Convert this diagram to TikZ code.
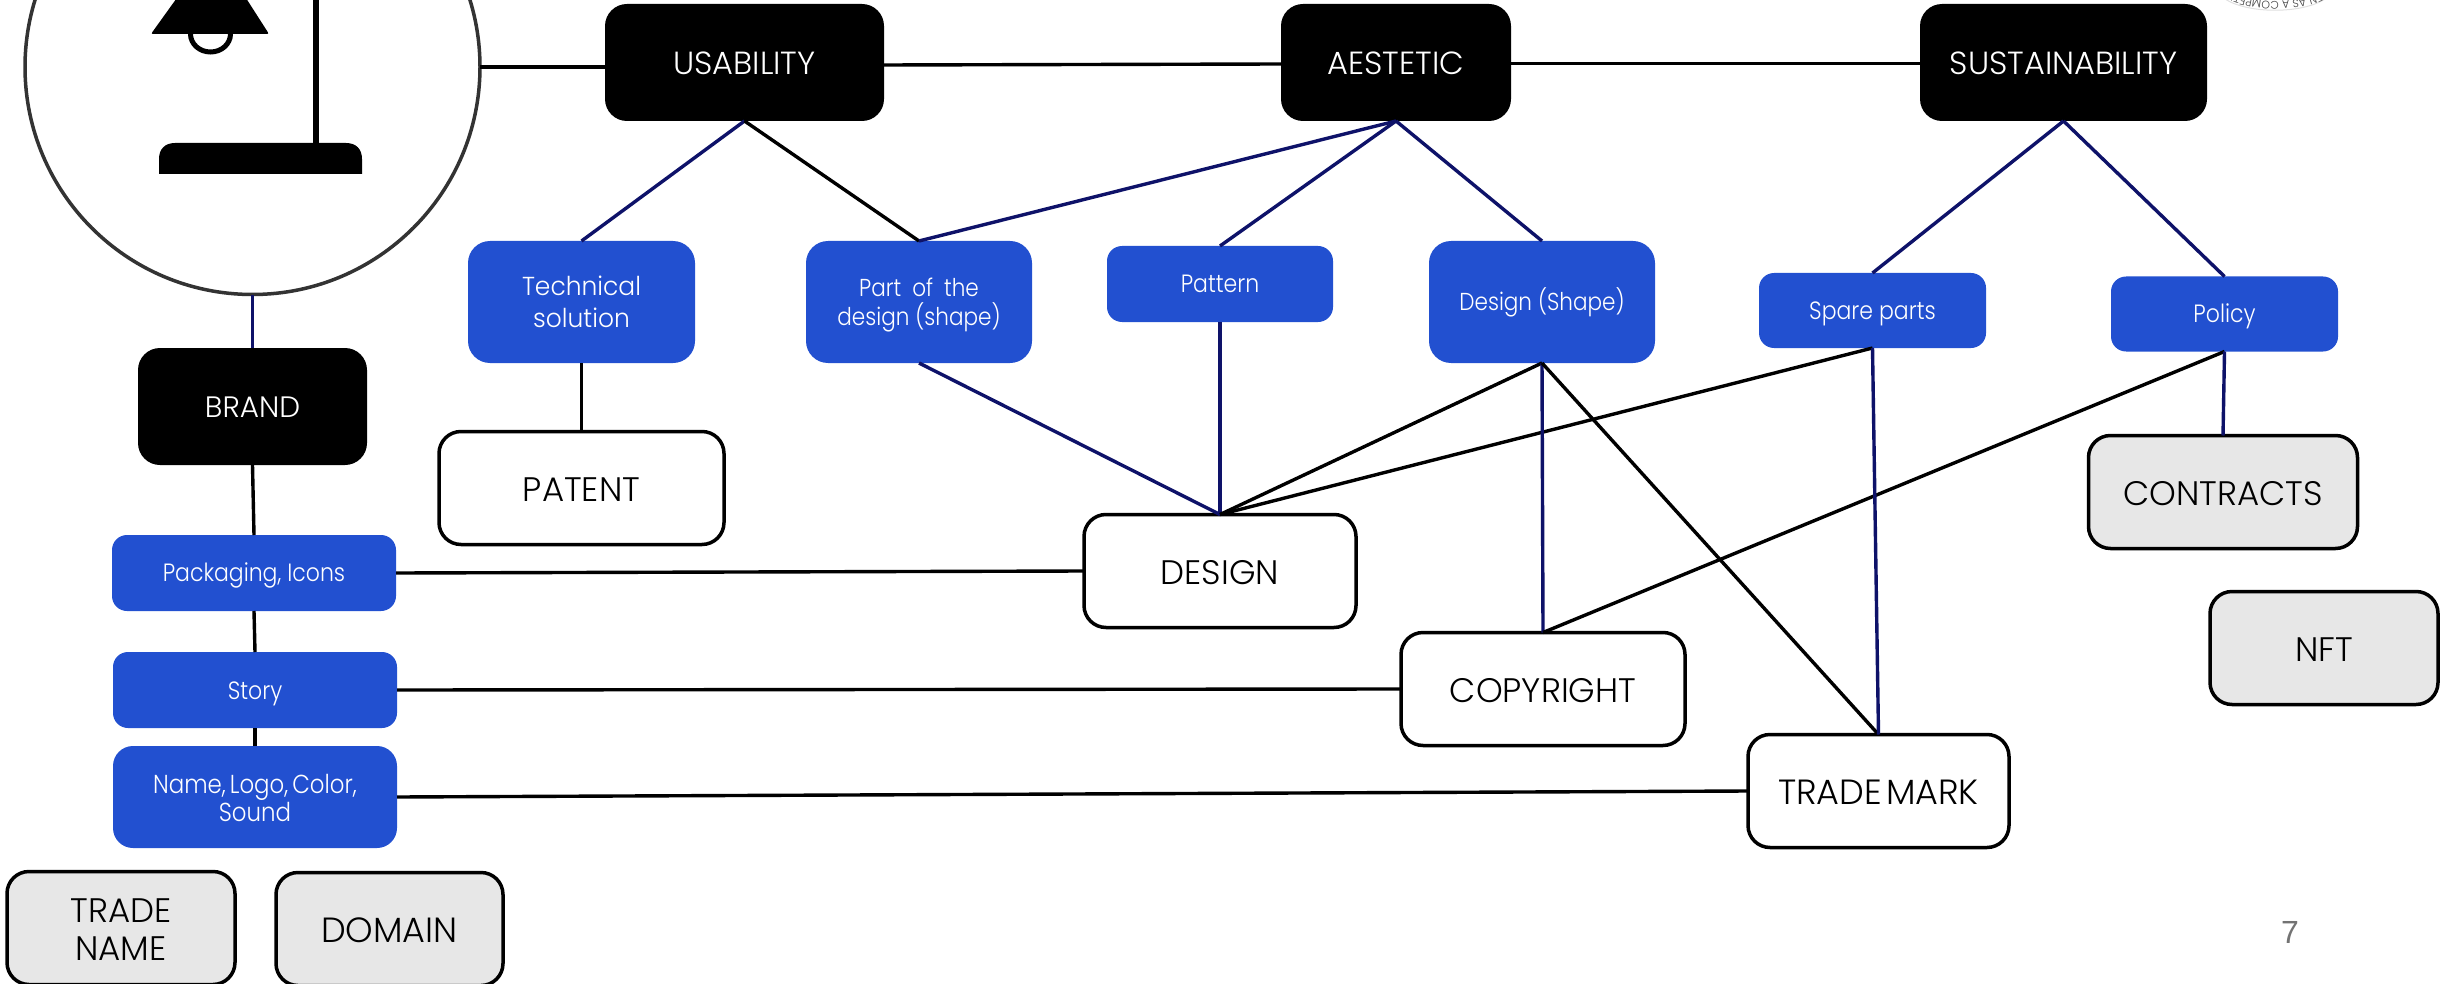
\documentclass[tikz,border=0pt]{standalone}
\usepackage{fontspec}
\usetikzlibrary{decorations.text}
\setmainfont{Poppins Light}
\newfontfamily\numfont{Liberation Sans}
\newfontfamily\tightfont[FakeStretch=0.88]{Poppins Light}
\newfontfamily\techfont[FakeStretch=0.96]{Poppins Light}
\newcommand\twoL[3]{\rule{0pt}{#1}\smash{#2}\\\smash{#3}}
\begin{document}
\begin{tikzpicture}[x=1pt,y=-1pt,
  basebox/.style={rectangle,align=center,inner sep=0pt,outer sep=0pt,rounded corners=#1},
  basebox/.default=22pt,
  oneline/.style={text height=#1,text depth=0pt},
  blackbox/.style={basebox=22pt,fill=black,text=white,font=\fontsize{32}{36}\selectfont,oneline=25pt},
  bluebox/.style={basebox=22pt,fill=blueF,text=white,font=\tightfont\fontsize{24.5}{29}\selectfont},
  bluelow/.style={basebox=15pt,fill=blueF,text=white,font=\tightfont\fontsize{25}{27.5}\selectfont},
  lawbox/.style={basebox=22pt,draw=black,line width=3.5pt,fill=white,text=black,font=\fontsize{34}{38}\selectfont},
  greybox/.style={lawbox,fill=greyF},
  blk/.style={draw=black,line width=3.4pt},
  nvy/.style={draw=navyL,line width=3.4pt},
]
\definecolor{blueF}{HTML}{2250D0}
\definecolor{navyL}{HTML}{0E1269}
\definecolor{greyF}{HTML}{E7E7E7}
\useasboundingbox (0,0) rectangle (2443,984);
\fill[white] (0,0) rectangle (2443,984);
% seal cut by the top edge
\draw[black!12,line width=1pt] (2325,-1) .. controls (2302,14) and (2248,14) .. (2225,-1);
\path[decorate,decoration={text along path,text align=center,text={|\fontsize{11}{11}\selectfont\color{black!75}|EN AS A COMPETI}}] (2322,-7) .. controls (2300,4) and (2254,4) .. (2232,-7);
% lamp
\node[circle,draw=black!80,line width=3.5pt,fill=white,minimum size=455pt,inner sep=0pt,outer sep=0pt] (lamp) at (252.5,67) {};
\fill[black,rounded corners=2pt] (179,-5) -- (244,-5) -- (269,34) -- (151,34) -- cycle;
\draw[black,line width=5pt] (190.5,34) arc[start angle=180,end angle=0,x radius=20,y radius=18];
\draw[black,line width=6pt] (316,-5) -- (316,145);
\fill[black] (159,174) -- (159,159) .. controls (159,149) and (165,143) .. (175,143) -- (346,143) .. controls (356,143) and (362,149) .. (362,159) -- (362,174) -- cycle;
% boxes: black
\node[blackbox,minimum width=279pt,minimum height=117pt] (usa) at (744.5,62.5) {USABILITY};
\node[blackbox,minimum width=230pt,minimum height=117pt] (aes) at (1396,62.5) {AESTETIC};
\node[blackbox,minimum width=287pt,minimum height=117pt] (sus) at (2063.5,62.5) {SUSTAINABILITY};
\node[blackbox,oneline=21pt,font=\fontsize{29.5}{36}\selectfont,minimum width=229pt,minimum height=117pt] (bra) at (252.5,406.5) {BRAND};
% blue
\node[bluebox,font=\techfont\fontsize{26}{32}\selectfont,minimum width=227pt,minimum height=122pt] (tec) at (581.5,302) {\twoL{18pt}{Technical}{solution}};
\node[bluebox,minimum width=226pt,minimum height=122pt] (par) at (919,302) {\twoL{17.2pt}{\spaceskip=11pt Part of the}{design (shape)}};
\node[bluelow,oneline=17.5pt,minimum width=226pt,minimum height=76pt] (pat) at (1220,284) {Pattern};
\node[bluebox,oneline=17.2pt,minimum width=226pt,minimum height=122pt] (dsh) at (1542,302) {Design (Shape)};
\node[bluelow,oneline=17.5pt,minimum width=227pt,minimum height=75pt] (spa) at (1872.5,310.5) {Spare parts};
\node[bluelow,oneline=17.5pt,minimum width=227pt,minimum height=75pt] (pol) at (2224.5,314) {Policy};
\node[bluelow,oneline=17.5pt,minimum width=284pt,minimum height=76pt] (pac) at (254,573) {Packaging, Icons};
\node[bluelow,oneline=18.5pt,minimum width=284pt,minimum height=76pt] (sto) at (255,690) {Story};
\node[bluelow,font=\tightfont\fontsize{26}{28}\selectfont,basebox=20pt,minimum width=284pt,minimum height=102pt] (nam) at (255,797) {\twoL{20pt}{\spaceskip=4pt Name, Logo, Color,}{Sound}};
% law
\node[lawbox,oneline=27.5pt,minimum width=285pt,minimum height=113pt] (ptn) at (581.5,488) {PATENT};
\node[lawbox,oneline=27.5pt,minimum width=272pt,minimum height=113pt] (des) at (1220,571) {DESIGN};
\node[lawbox,oneline=27.5pt,minimum width=284pt,minimum height=113pt] (cop) at (1543,689) {COPYRIGHT};
\node[lawbox,oneline=27.5pt,font=\fontsize{35}{38}\selectfont,minimum width=261pt,minimum height=113pt] (tra) at (1878.5,791) {\spaceskip=4pt TRADE MARK};
\node[greybox,oneline=27pt,minimum width=269pt,minimum height=113pt] (con) at (2223,492) {CONTRACTS};
\node[greybox,oneline=27pt,minimum width=228pt,minimum height=113pt] (nft) at (2324,648) {NFT};
\node[greybox,minimum width=228pt,minimum height=113pt] (tna) at (121,928) {\twoL{27pt}{TRADE}{NAME}};
\node[greybox,oneline=27.5pt,font=\fontsize{35}{38}\selectfont,minimum width=227pt,minimum height=113pt] (dom) at (389.5,929) {DOMAIN};
% connectors
\path[blk] (lamp.east) -- ([yshift=-4.5pt]usa.west);
\path[blk] ([yshift=-2.5pt]usa.east) -- ([yshift=-1.5pt]aes.west);
\path[blk] ([yshift=-1pt]aes.east) -- ([yshift=-1pt]sus.west);
\path[nvy] (lamp.south) -- (bra.north);
\path[blk] (bra.south) -- (pac.north);
\path[blk] (pac.south) -- (sto.north);
\path[blk] (sto.south) -- (nam.north);
\path[blk] (pac.east) -- (des.west);
\path[blk] (sto.east) -- (cop.west);
\path[blk] (nam.east) -- (tra.west);
\path[nvy] (usa.south) -- (tec.north);
\path[blk] (usa.south) -- (par.north);
\path[nvy] (aes.south) -- (par.north);
\path[nvy] (aes.south) -- (pat.north);
\path[nvy] (aes.south) -- (dsh.north);
\path[nvy] (sus.south) -- (spa.north);
\path[nvy] (sus.south) -- (pol.north);
\path[blk] (tec.south) -- (ptn.north);
\path[nvy] (par.south) -- (des.north);
\path[nvy] (pat.south) -- (des.north);
\path[blk] (dsh.south) -- (des.north);
\path[blk] (spa.south) -- (des.north);
\path[nvy] (dsh.south) -- (cop.north);
\path[blk] (dsh.south) -- (tra.north);
\path[blk] (pol.south) -- (cop.north);
\path[nvy] (pol.south) -- (con.north);
\path[nvy] (spa.south) -- (tra.north);
% page number
\node[font=\numfont\fontsize{32}{36}\selectfont,text=black!55,inner sep=0pt] (num) at (2290,932) {7};
\end{tikzpicture}
\end{document}
